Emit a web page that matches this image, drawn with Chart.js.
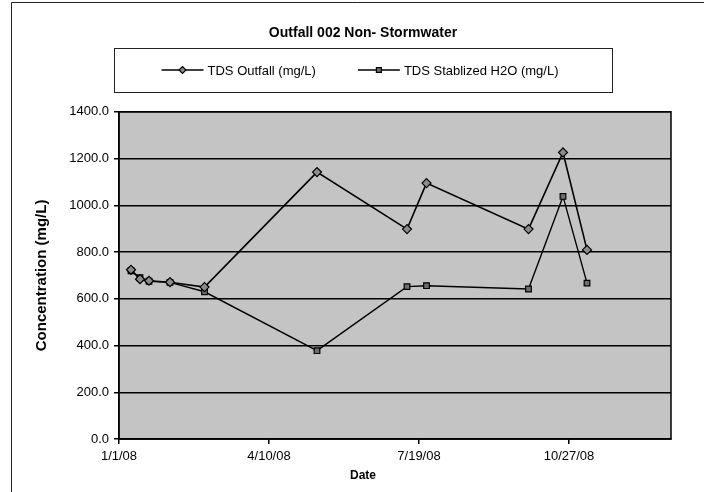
<!DOCTYPE html>
<html>
<head>
<meta charset="utf-8">
<script src="https://cdn.jsdelivr.net/npm/chart.js@4.4.0/dist/chart.umd.min.js"></script>
<style>
  html, body { margin: 0; padding: 0; background: #fff; }
</style>
</head>
<body>
<canvas id="grafico" width="704" height="492"></canvas>
<script>
// datas das amostras (2008) e valores
const datas = ['2008-01-09', '2008-01-15', '2008-01-21', '2008-02-04', '2008-02-27', '2008-05-12',
               '2008-07-11', '2008-07-24', '2008-09-30', '2008-10-23', '2008-11-08'];
const tdsOutfall = [724, 684, 677, 671, 650, 1142, 898, 1095, 898, 1226, 809];
const tdsEstabilizado = [720, 690, 675, 670, 630, 378, 652, 656, 642, 1038, 667];
const rotulosX = ['1/1/08', '4/10/08', '7/19/08', '10/27/08'];
const nomes = ['TDS Outfall (mg/L)', 'TDS Stablized H2O (mg/L)'];

const fonte = 'Arial, "Liberation Sans", sans-serif';
const inicio = Date.parse('2008-01-01');
const dia = d => (Date.parse(d) - inicio) / 86400000;

// fundo branco, moldura e area cinza do grafico
const fundo = {
    id: 'fundo',
    beforeDraw(chart) {
        const c = chart.ctx, a = chart.chartArea;
        c.save();
        c.fillStyle = '#fff';
        c.fillRect(0, 0, chart.width, chart.height);
        c.strokeStyle = '#222';
        c.lineWidth = 1;
        c.beginPath();
        c.moveTo(11.5, chart.height);
        c.lineTo(11.5, 2.5);
        c.lineTo(chart.width, 2.5);
        c.stroke();
        c.fillStyle = '#c4c4c4';
        c.fillRect(a.left, a.top, a.right - a.left, a.bottom - a.top);
        c.restore();
    },
    beforeDatasetsDraw(chart) {
        const c = chart.ctx, a = chart.chartArea;
        c.save();
        c.strokeStyle = '#000';
        c.lineWidth = 1.5;
        c.strokeRect(a.left, a.top, a.right - a.left, a.bottom - a.top);
        c.restore();
    }
};

// legenda com caixa, linha e marcador de cada serie
const legenda = {
    id: 'legenda',
    afterDraw(chart) {
        const c = chart.ctx;
        const centro = chart.width / 2 + 11;
        c.save();
        c.strokeStyle = '#222';
        c.lineWidth = 1;
        c.strokeRect(centro - 249 + 0.5, 48.5, 498, 44);
        c.font = '13px ' + fonte;
        c.textBaseline = 'middle';
        const w0 = c.measureText(nomes[0]).width;
        const w1 = c.measureText(nomes[1]).width;
        const total = 42 + 4 + w0 + 42 + 42 + 4 + w1;
        let x = centro - 3 - total / 2;
        const y = 70;
        chart.data.datasets.forEach((ds, i) => {
            c.strokeStyle = '#000';
            c.lineWidth = 1.5;
            c.beginPath();
            c.moveTo(x, y);
            c.lineTo(x + 42, y);
            c.stroke();
            c.fillStyle = ds.pointBackgroundColor;
            c.lineWidth = 1.2;
            Chart.helpers.drawPoint(c, {pointStyle: ds.pointStyle, radius: 3.5, borderWidth: 1.2}, x + 21, y);
            c.fillStyle = '#000';
            c.fillText(nomes[i], x + 46, y + 1);
            x += 46 + (i === 0 ? w0 : w1) + 42;
        });
        c.restore();
    }
};

const ctx = document.getElementById('grafico').getContext('2d');
const grafico = new Chart(ctx, {
    type: 'line',
    data: {
        datasets: [{
            label: nomes[0],
            data: datas.map((d, i) => ({x: dia(d), y: tdsOutfall[i]})),
            borderColor: '#000',
            borderWidth: 1.6,
            pointStyle: 'rectRot',
            pointRadius: 4.5,
            pointBackgroundColor: '#8c8c8c',
            pointBorderColor: '#000',
            pointBorderWidth: 1.2
        }, {
            label: nomes[1],
            data: datas.map((d, i) => ({x: dia(d), y: tdsEstabilizado[i]})),
            borderColor: '#000',
            borderWidth: 1.4,
            pointStyle: 'rect',
            pointRadius: 4,
            pointBackgroundColor: '#6e6e6e',
            pointBorderColor: '#000',
            pointBorderWidth: 1.2
        }]
    },
    options: {
        responsive: false,
        animation: false,
        layout: { padding: { left: 55, right: 33, top: 0, bottom: 0 } },
        plugins: {
            legend: { display: false },
            tooltip: { enabled: false },
            title: {
                display: true,
                text: 'Outfall 002 Non- Stormwater',
                color: '#000',
                font: { family: fonte, size: 14, weight: 'bold' },
                padding: { top: 25, bottom: 70 }
            },
            subtitle: {
                display: true,
                position: 'bottom',
                text: 'Date',
                color: '#000',
                font: { family: fonte, size: 12, weight: 'bold' },
                padding: { top: 0, bottom: 9 }
            }
        },
        scales: {
            x: {
                type: 'linear',
                min: 0,
                max: 368,
                afterFit(s) { s.height = 29.6; },
                ticks: {
                    stepSize: 100,
                    includeBounds: false,
                    autoSkip: false,
                    maxRotation: 0,
                    color: '#000',
                    font: { family: fonte, size: 13 },
                    padding: 5,
                    callback: v => rotulosX[v / 100]
                },
                grid: { drawOnChartArea: false, color: '#000', tickLength: 5, lineWidth: 1.5 },
                border: { color: '#000', width: 1.5 }
            },
            y: {
                min: 0,
                max: 1400,
                afterFit(s) { s.width = 64; },
                ticks: {
                    stepSize: 200,
                    color: '#000',
                    font: { family: fonte, size: 13 },
                    padding: 5,
                    callback: v => v.toFixed(1)
                },
                grid: { color: '#000', lineWidth: 1.5, tickLength: 5 },
                border: { color: '#000', width: 1.5 },
                title: {
                    display: true,
                    text: 'Concentration (mg/L)',
                    color: '#000',
                    font: { family: fonte, size: 15, weight: 'bold' },
                    padding: { top: -22, bottom: 0 }
                }
            }
        }
    },
    plugins: [fundo, legenda]
});
</script>
</body>
</html>
